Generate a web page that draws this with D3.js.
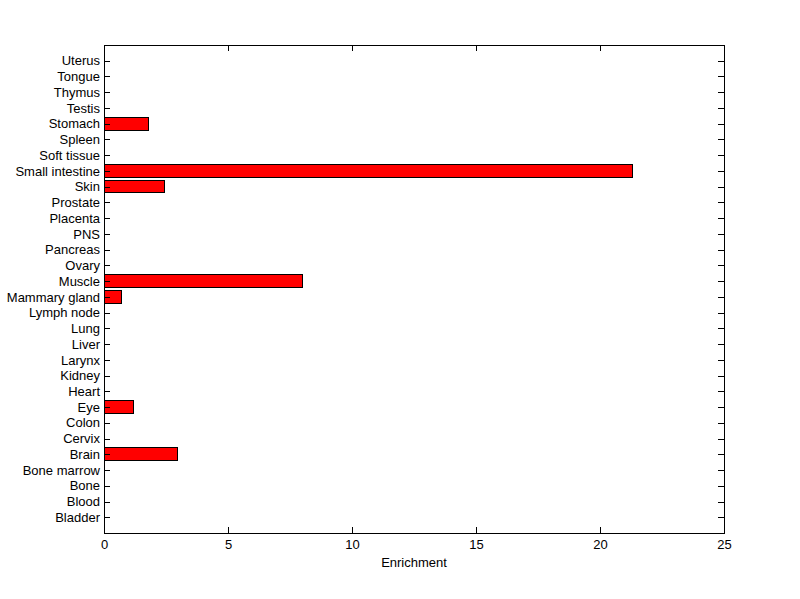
<!DOCTYPE html>
<html><head><meta charset="utf-8">
<script src="https://cdn.jsdelivr.net/npm/d3@7"></script>
<style>body{margin:0;background:#fff}svg{display:block}</style>
</head><body>
<script>
const categories = ["Bladder","Blood","Bone","Bone marrow","Brain","Cervix","Colon","Eye","Heart","Kidney","Larynx","Liver","Lung","Lymph node","Mammary gland","Muscle","Ovary","Pancreas","PNS","Placenta","Prostate","Skin","Small intestine","Soft tissue","Spleen","Stomach","Testis","Thymus","Tongue","Uterus"];
const values = [0,0,0,0,2.98,0,0,1.17,0,0,0,0,0,0,0.69,8.02,0,0,0,0,0,2.42,21.33,0,0,1.81,0,0,0,0];
const xTicks = [0,5,10,15,20,25];
const xLabel = "Enrichment";

const W=800,H=599;
const L=104,R=724,T=45,B=533;
const svg=d3.select("body").append("svg").attr("width",W).attr("height",H);
const font="'Liberation Sans', Arial, sans-serif";
const fs=13;
const x=d3.scaleLinear().domain([0,25]).range([L,R]);
const y=d3.scaleLinear().domain([0,categories.length+1]).range([B,T]);
const bh=(y(0)-y(1))*0.8;

svg.append("g").selectAll("rect").data(values.map((v,i)=>({v,i}))).join("rect")
  .attr("x",x(0)).attr("y",d=>y(d.i+1)-bh/2).attr("width",d=>x(d.v)-x(0)).attr("height",bh)
  .attr("fill","#ff0000").attr("stroke","#000").attr("stroke-width",1).attr("shape-rendering","crispEdges");

const tl=6;
const xb=svg.append("g").attr("transform",`translate(0,${B})`).call(d3.axisBottom(x).tickValues(xTicks).tickSizeInner(-tl).tickSizeOuter(0).tickPadding(7));
const xt=svg.append("g").attr("transform",`translate(0,${T})`).call(d3.axisTop(x).tickValues(xTicks).tickSizeInner(-tl).tickSizeOuter(0).tickFormat(""));
const yl=svg.append("g").attr("transform",`translate(${L},0)`).call(d3.axisLeft(y).tickValues(d3.range(1,categories.length+1)).tickFormat(d=>categories[d-1]).tickSizeInner(-tl).tickSizeOuter(0).tickPadding(4));
const yr=svg.append("g").attr("transform",`translate(${R},0)`).call(d3.axisRight(y).tickValues(d3.range(1,categories.length+1)).tickSizeInner(-tl).tickSizeOuter(0).tickFormat(""));
[xb,xt,yl,yr].forEach(g=>{g.select(".domain").remove();g.selectAll("line").attr("stroke","#000").attr("shape-rendering","crispEdges");g.selectAll("text").attr("font-family",font).attr("font-size",fs).attr("fill","#000");});
svg.append("rect").attr("x",L).attr("y",T).attr("width",R-L).attr("height",B-T).attr("fill","none").attr("stroke","#000").attr("shape-rendering","crispEdges");
svg.append("text").attr("x",(L+R)/2).attr("y",567).attr("text-anchor","middle").attr("font-family",font).attr("font-size",fs).text(xLabel);
</script>
</body></html>
